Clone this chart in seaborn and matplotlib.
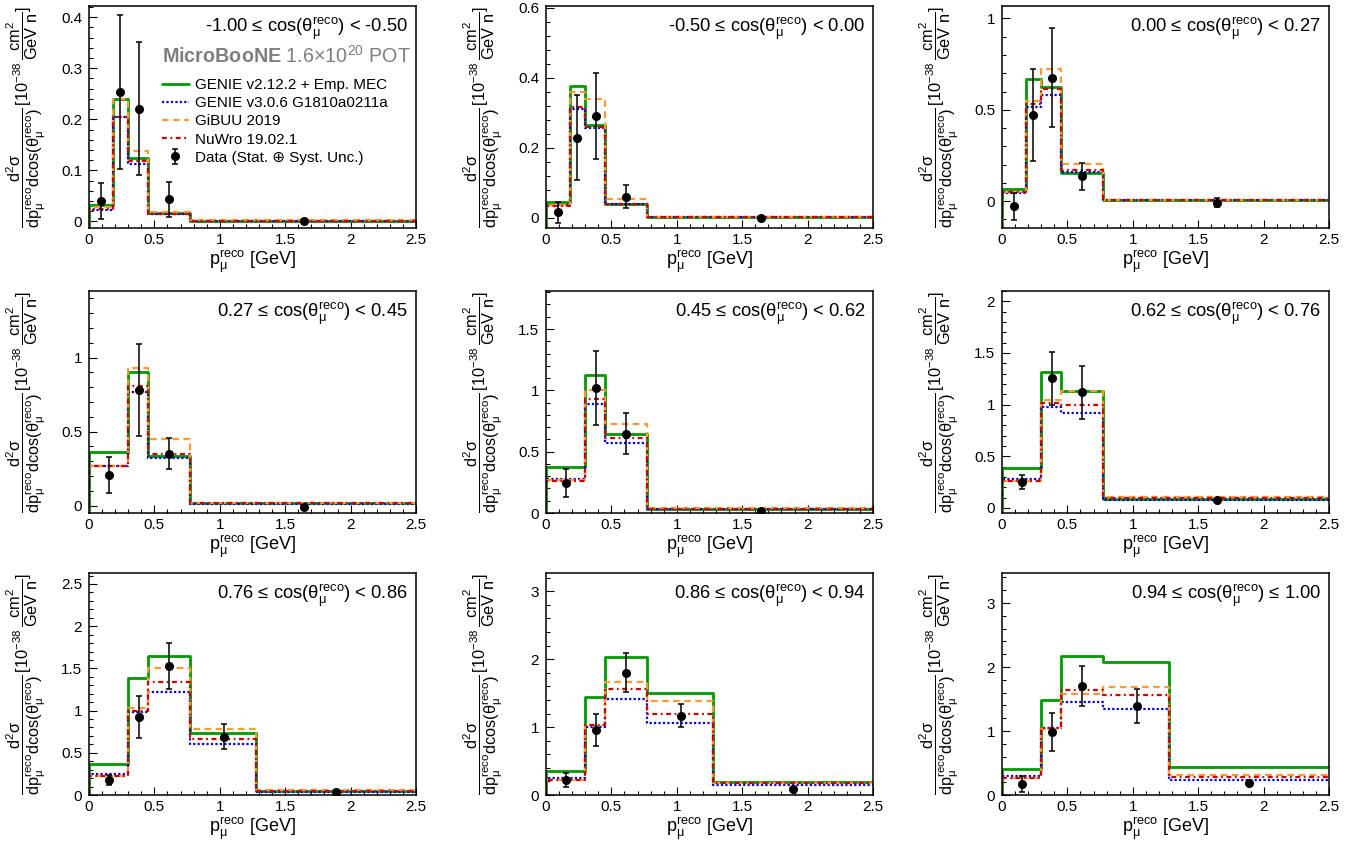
import matplotlib
matplotlib.use("Agg")
import matplotlib.pyplot as plt
import seaborn as sns
import numpy as np
from matplotlib.ticker import MultipleLocator, AutoMinorLocator, FuncFormatter

# ---------------- data ----------------
edges_a = [0, 0.18, 0.30, 0.45, 0.77, 2.5]
edges_b = [0, 0.30, 0.45, 0.77, 2.5]
edges_c = [0, 0.30, 0.45, 0.77, 1.28, 2.5]
x_a = [0.09, 0.24, 0.38, 0.61, 1.64]
x_b = [0.15, 0.38, 0.61, 1.64]
x_c = [0.15, 0.38, 0.61, 1.03, 1.89]

titles = [
    ("-1.00", "<", "-0.50"), ("-0.50", "<", "0.00"), ("0.00", "<", "0.27"),
    ("0.27", "<", "0.45"), ("0.45", "<", "0.62"), ("0.62", "<", "0.76"),
    ("0.76", "<", "0.86"), ("0.86", "<", "0.94"), ("0.94", "≤", "1.00"),
]

genie2 = [
    [0.033, 0.240, 0.125, 0.017, 0.001],
    [0.045, 0.377, 0.265, 0.040, 0.001],
    [0.065, 0.668, 0.624, 0.156, 0.005],
    [0.364, 0.903, 0.335, 0.015],
    [0.374, 1.128, 0.648, 0.035],
    [0.390, 1.315, 1.135, 0.090],
    [0.368, 1.388, 1.648, 0.732, 0.048],
    [0.358, 1.440, 2.040, 1.500, 0.190],
    [0.410, 1.480, 2.170, 2.080, 0.430],
]
genie3 = [
    [0.022, 0.205, 0.112, 0.015, 0.001],
    [0.035, 0.310, 0.256, 0.038, 0.001],
    [0.045, 0.514, 0.580, 0.160, 0.005],
    [0.270, 0.769, 0.321, 0.012],
    [0.279, 0.890, 0.574, 0.035],
    [0.279, 0.977, 0.916, 0.080],
    [0.252, 0.980, 1.220, 0.600, 0.040],
    [0.250, 1.000, 1.410, 1.060, 0.150],
    [0.294, 1.055, 1.450, 1.340, 0.231],
]
gibuu = [
    [0.028, 0.240, 0.138, 0.018, 0.002],
    [0.035, 0.360, 0.340, 0.054, 0.002],
    [0.050, 0.550, 0.725, 0.205, 0.007],
    [0.270, 0.930, 0.448, 0.016],
    [0.270, 1.000, 0.724, 0.040],
    [0.260, 1.042, 1.133, 0.107],
    [0.220, 1.036, 1.500, 0.780, 0.060],
    [0.220, 1.030, 1.670, 1.390, 0.170],
    [0.270, 1.030, 1.580, 1.690, 0.305],
]
nuwro = [
    [0.025, 0.205, 0.118, 0.015, 0.001],
    [0.033, 0.317, 0.260, 0.040, 0.001],
    [0.050, 0.532, 0.615, 0.169, 0.005],
    [0.265, 0.810, 0.346, 0.015],
    [0.257, 0.932, 0.612, 0.035],
    [0.260, 1.013, 0.997, 0.095],
    [0.220, 1.000, 1.340, 0.660, 0.050],
    [0.220, 1.030, 1.560, 1.200, 0.170],
    [0.273, 1.050, 1.634, 1.560, 0.284],
]
data_y = [
    [0.040, 0.254, 0.221, 0.043, 0.001],
    [0.015, 0.228, 0.290, 0.060, 0.000],
    [-0.029, 0.472, 0.675, 0.136, -0.009],
    [0.208, 0.783, 0.350, -0.011],
    [0.243, 1.019, 0.645, 0.019],
    [0.250, 1.253, 1.120, 0.075],
    [0.176, 0.924, 1.528, 0.692, 0.032],
    [0.224, 0.960, 1.800, 1.170, 0.094],
    [0.173, 0.988, 1.700, 1.390, 0.190],
]
data_err = [
    [0.035, 0.151, 0.130, 0.034, 0.003],
    [0.030, 0.121, 0.124, 0.033, 0.003],
    [0.072, 0.252, 0.270, 0.073, 0.025],
    [0.120, 0.310, 0.105, 0.010],
    [0.115, 0.300, 0.167, 0.012],
    [0.070, 0.255, 0.258, 0.015],
    [0.060, 0.245, 0.270, 0.148, 0.010],
    [0.100, 0.235, 0.285, 0.170, 0.015],
    [0.120, 0.300, 0.315, 0.265, 0.020],
]
model_names = ["GENIE v2.12.2 + Emp. MEC", "GENIE v3.0.6 G1810a0211a",
               "GiBUU 2019", "NuWro 19.02.1"]
data_name = "Data (Stat. ⊕ Syst. Unc.)"

# ---------------- layout / style ----------------
ylims = [(-0.013, 0.422), (-0.03, 0.605), (-0.147, 1.068), (-0.05, 1.45),
         (0, 1.81), (-0.05, 2.10), (0, 2.63), (0, 3.27), (0, 3.47)]
ymajor = [0.1, 0.2, 0.5, 0.5, 0.5, 0.5, 0.5, 1, 1]
row_edges = [edges_a, edges_b, edges_c]
row_x = [x_a, x_b, x_c]

styles = [
    dict(color="#009a00", linestyle="-", linewidth=2.0),
    dict(color="#0000dd", linestyle=(0, (1, 1)), linewidth=1.6),
    dict(color="#ff9933", linestyle=(0, (3, 2)), linewidth=1.6),
    dict(color="#cc0000", linestyle=(0, (2.2, 1.6, 0.8, 1.6)), linewidth=1.6),
]

sns.set_style("ticks")
plt.rcParams["font.family"] = ["Liberation Sans", "DejaVu Sans"]
plt.rcParams["mathtext.fontset"] = "custom"
plt.rcParams["mathtext.rm"] = "Liberation Sans"
plt.rcParams["mathtext.it"] = "Liberation Sans:italic"
plt.rcParams["mathtext.bf"] = "Liberation Sans:bold"
plt.rcParams["mathtext.default"] = "regular"
plt.rcParams["mathtext.fallback"] = "stixsans"
for k in ["text.color", "axes.labelcolor", "xtick.color", "ytick.color",
          "axes.edgecolor"]:
    plt.rcParams[k] = "black"

W, H = 1363, 846
fig = plt.figure(figsize=(W / 100, H / 100), dpi=100)
lefts = [89, 546, 1002]
tops = [6, 291, 573]
aw, ah = 327, 222

ylab = (r"$\dfrac{d^{2}\sigma}{dp_{\mu}^{reco}dcos(\theta_{\mu}^{reco})}"
        r"\,[10^{-38}\,\dfrac{cm^{2}}{GeV\ n}]$")
fmt = FuncFormatter(lambda v, p: "%g" % round(v, 6))

for i in range(9):
    r, c = divmod(i, 3)
    ax = fig.add_axes([lefts[c] / W, 1 - (tops[r] + ah) / H, aw / W, ah / H])
    edges = row_edges[r]
    xs = [edges[0]] + list(edges)
    for vals, st in zip([genie2, genie3, gibuu, nuwro], styles):
        v = vals[i]
        ys = [-10.0] + list(v) + [v[-1]]
        sns.lineplot(x=xs, y=ys, drawstyle="steps-post", estimator=None,
                     sort=False, ax=ax, legend=False, **st)
    eb = ax.errorbar(row_x[r], data_y[i], yerr=data_err[i], fmt="o", color="k",
                     ms=5.5, capsize=2, elinewidth=1.1, capthick=1.1, zorder=5)
    ax.set_xlim(0, 2.5)
    ax.set_ylim(*ylims[i])
    ax.xaxis.set_major_locator(MultipleLocator(0.5))
    ax.xaxis.set_minor_locator(AutoMinorLocator(5))
    ax.yaxis.set_major_locator(MultipleLocator(ymajor[i]))
    ax.yaxis.set_minor_locator(AutoMinorLocator(5))
    ax.xaxis.set_major_formatter(fmt)
    ax.yaxis.set_major_formatter(fmt)
    ax.tick_params(which="both", direction="in", width=0.8, labelsize=11,
                   top=False, right=False, colors="black")
    ax.tick_params(which="major", length=6)
    ax.tick_params(which="minor", length=3)
    ax.tick_params(axis="y", pad=5)
    for sp in ax.spines.values():
        sp.set_linewidth(1.1)
        sp.set_color("black")
    ax.set_xlabel(r"$p_{\mu}^{reco}$ [GeV]", fontsize=13, labelpad=1)
    ax.set_ylabel(ylab, fontsize=11.8)
    ax.yaxis.set_label_coords(-0.125, 0.5)
    lo, op, hi = titles[i]
    ax.text(0.976, 0.885, f"{lo} ≤ cos($\\theta_{{\\mu}}^{{reco}}$) {op} {hi}",
            transform=ax.transAxes, ha="right", va="baseline", fontsize=13.2)
    if i == 0:
        ax.text(0.223, 0.745, r"$\mathbf{MicroBooNE}$ 1.6$\times$10$^{20}$ POT",
                transform=ax.transAxes, color="#7f7f7f", fontsize=14.2,
                va="baseline")
        handles = list(ax.get_lines()[:4]) + [eb]
        ax.legend(handles, model_names + [data_name], loc="upper left",
                  bbox_to_anchor=(0.223, 0.675), frameon=False, fontsize=11,
                  handlelength=1.75, handletextpad=0.4, labelspacing=0.27,
                  borderpad=0, borderaxespad=0)

fig.savefig("out.png", dpi=100)
